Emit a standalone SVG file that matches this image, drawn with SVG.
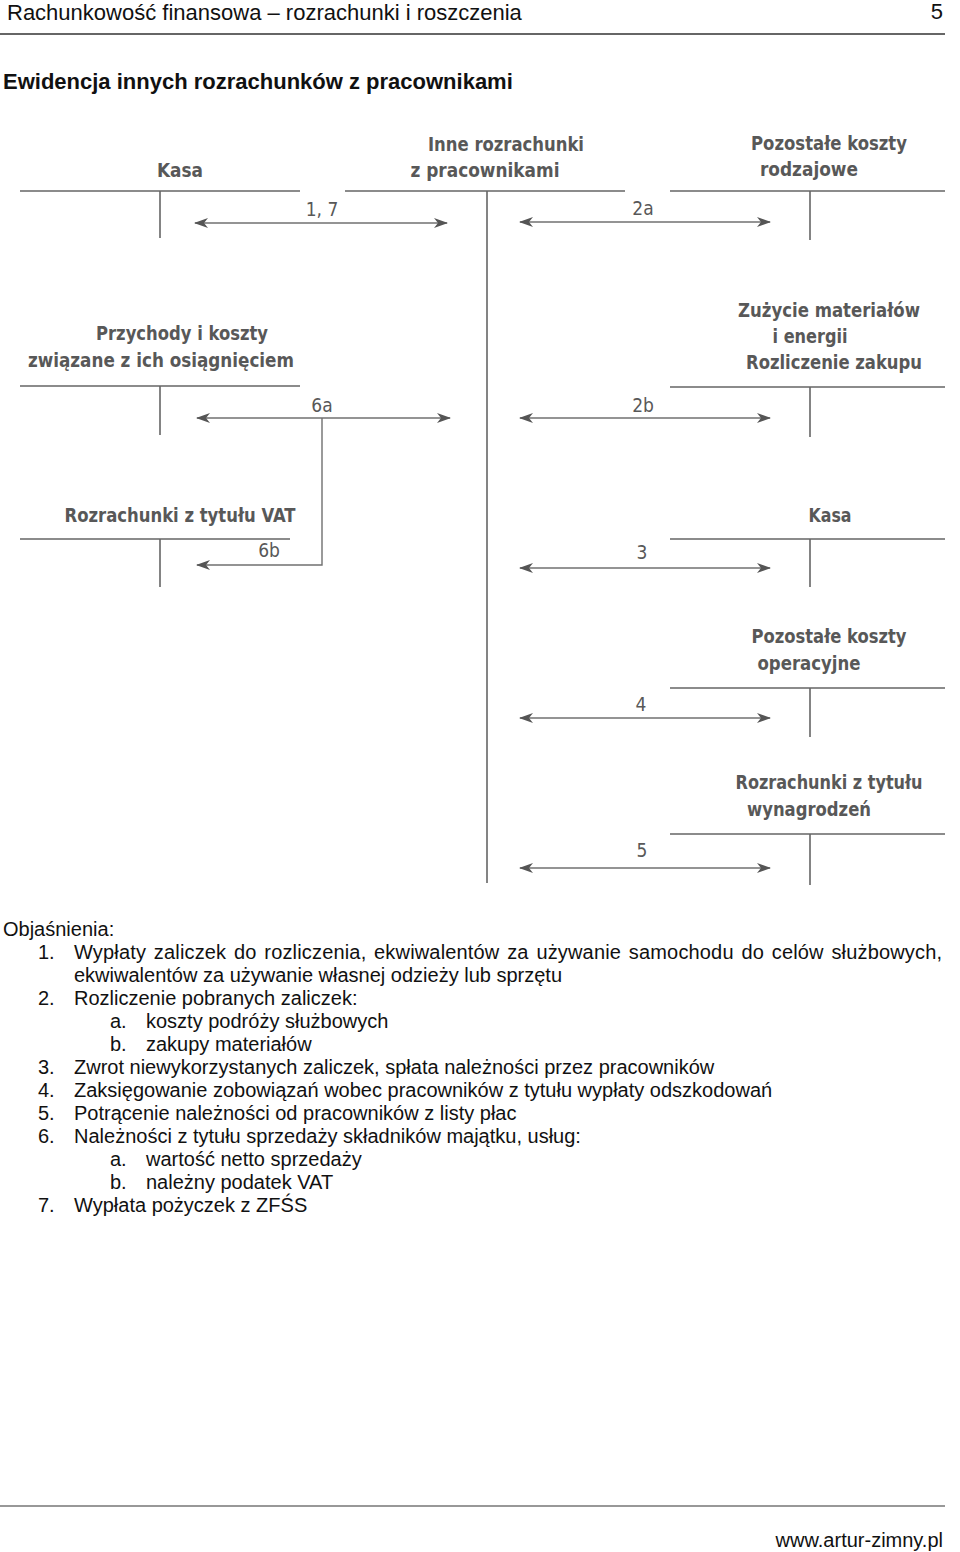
<svg xmlns="http://www.w3.org/2000/svg" width="960" height="1552" viewBox="0 0 960 1552">
<defs>
<marker id="ah" viewBox="0 0 14 10" refX="13" refY="5" markerWidth="14" markerHeight="10" markerUnits="userSpaceOnUse" orient="auto-start-reverse">
<path d="M0,0 L14,5 L0,10 L4,5 z" fill="#555"/>
</marker>
</defs>
<style>
.pg{font-family:"Liberation Sans",Arial,sans-serif;fill:#111}
.hd{font-size:22px}
.tt{font-size:22px;font-weight:bold}
.ex{font-size:20px}
.acc{font-family:"Liberation Sans Narrow","DejaVu Sans Condensed","Liberation Sans",sans-serif;font-size:19px;font-weight:bold;fill:#585858;text-anchor:middle}
.lbl{font-family:"Liberation Sans Narrow","DejaVu Sans Condensed","Liberation Sans",sans-serif;font-size:19px;fill:#585858;text-anchor:middle}
.t{stroke:#666;stroke-width:1.6;fill:none}
.ar{stroke:#707070;stroke-width:1.4;fill:none}
</style>
<rect width="960" height="1552" fill="#fff"/>
<g id="header">
<text class="pg hd" x="7" y="20">Rachunkowość finansowa – rozrachunki i roszczenia</text>
<text class="pg hd" x="943" y="19" text-anchor="end">5</text>
<line x1="0" y1="34" x2="945" y2="34" stroke="#333" stroke-width="1.5"/>
<text class="pg tt" x="3" y="89">Ewidencja innych rozrachunków z pracownikami</text>
</g>
<g id="kasa1">
<text class="acc" x="180" y="177" textLength="46" lengthAdjust="spacingAndGlyphs">Kasa</text>
<path class="t" d="M20,191 H300 M160,191 V238"/>
</g>
<g id="inne">
<text class="acc" x="506" y="151" textLength="156" lengthAdjust="spacingAndGlyphs">Inne rozrachunki</text>
<text class="acc" x="485" y="177" textLength="149" lengthAdjust="spacingAndGlyphs">z pracownikami</text>
<path class="t" d="M345,191 H625 M487,191 V883"/>
</g>
<g id="pkr">
<text class="acc" x="829" y="150" textLength="156" lengthAdjust="spacingAndGlyphs">Pozostałe koszty</text>
<text class="acc" x="809" y="176" textLength="98" lengthAdjust="spacingAndGlyphs">rodzajowe</text>
<path class="t" d="M670,191 H945 M810,191 V240"/>
</g>
<g id="przychody">
<text class="acc" x="182" y="340" textLength="172" lengthAdjust="spacingAndGlyphs">Przychody i koszty</text>
<text class="acc" x="161" y="367" textLength="266" lengthAdjust="spacingAndGlyphs">związane z ich osiągnięciem</text>
<path class="t" d="M20,386 H300 M160,386 V435"/>
</g>
<g id="zuzycie">
<text class="acc" x="829" y="317" textLength="182" lengthAdjust="spacingAndGlyphs">Zużycie materiałów</text>
<text class="acc" x="810" y="343" textLength="75" lengthAdjust="spacingAndGlyphs">i energii</text>
<text class="acc" x="834" y="369" textLength="176" lengthAdjust="spacingAndGlyphs">Rozliczenie zakupu</text>
<path class="t" d="M670,387 H945 M810,387 V437"/>
</g>
<g id="vat">
<text class="acc" x="180" y="522" textLength="231" lengthAdjust="spacingAndGlyphs">Rozrachunki z tytułu VAT</text>
<path class="t" d="M20,539 H290 M160,539 V587"/>
</g>
<g id="kasa2">
<text class="acc" x="830" y="522" textLength="43" lengthAdjust="spacingAndGlyphs">Kasa</text>
<path class="t" d="M670,539 H945 M810,539 V587"/>
</g>
<g id="pko">
<text class="acc" x="829" y="643" textLength="155" lengthAdjust="spacingAndGlyphs">Pozostałe koszty</text>
<text class="acc" x="809" y="670" textLength="103" lengthAdjust="spacingAndGlyphs">operacyjne</text>
<path class="t" d="M670,688 H945 M810,688 V737"/>
</g>
<g id="wynagr">
<text class="acc" x="829" y="789" textLength="187" lengthAdjust="spacingAndGlyphs">Rozrachunki z tytułu</text>
<text class="acc" x="809" y="816" textLength="124" lengthAdjust="spacingAndGlyphs">wynagrodzeń</text>
<path class="t" d="M670,834 H945 M810,834 V885"/>
</g>
<g id="connectors">
<line class="ar" x1="195" y1="223" x2="447" y2="223" marker-start="url(#ah)" marker-end="url(#ah)"/>
<line class="ar" x1="520" y1="222" x2="770" y2="222" marker-start="url(#ah)" marker-end="url(#ah)"/>
<line class="ar" x1="197" y1="418" x2="450" y2="418" marker-start="url(#ah)" marker-end="url(#ah)"/>
<path class="ar" d="M322,418 V565 H197" marker-end="url(#ah)"/>
<line class="ar" x1="520" y1="418" x2="770" y2="418" marker-start="url(#ah)" marker-end="url(#ah)"/>
<line class="ar" x1="520" y1="568" x2="770" y2="568" marker-start="url(#ah)" marker-end="url(#ah)"/>
<line class="ar" x1="520" y1="718" x2="770" y2="718" marker-start="url(#ah)" marker-end="url(#ah)"/>
<line class="ar" x1="520" y1="868" x2="770" y2="868" marker-start="url(#ah)" marker-end="url(#ah)"/>
<text class="lbl" x="322" y="216">1, 7</text>
<text class="lbl" x="643" y="215">2a</text>
<text class="lbl" x="322" y="412">6a</text>
<text class="lbl" x="643" y="412">2b</text>
<text class="lbl" x="269" y="557">6b</text>
<text class="lbl" x="642" y="559">3</text>
<text class="lbl" x="641" y="711">4</text>
<text class="lbl" x="642" y="857">5</text>
</g>
<g id="legend" class="pg ex">
<text x="3" y="936">Objaśnienia:</text>
<text x="38" y="959">1.</text>
<text x="74" y="959" word-spacing="2" textLength="868" lengthAdjust="spacing">Wypłaty zaliczek do rozliczenia, ekwiwalentów za używanie samochodu do celów służbowych,</text>
<text x="74" y="982">ekwiwalentów za używanie własnej odzieży lub sprzętu</text>
<text x="38" y="1005">2.</text>
<text x="74" y="1005">Rozliczenie pobranych zaliczek:</text>
<text x="110" y="1028">a.</text>
<text x="146" y="1028">koszty podróży służbowych</text>
<text x="110" y="1051">b.</text>
<text x="146" y="1051">zakupy materiałów</text>
<text x="38" y="1074">3.</text>
<text x="74" y="1074">Zwrot niewykorzystanych zaliczek, spłata należności przez pracowników</text>
<text x="38" y="1097">4.</text>
<text x="74" y="1097">Zaksięgowanie zobowiązań wobec pracowników z tytułu wypłaty odszkodowań</text>
<text x="38" y="1120">5.</text>
<text x="74" y="1120">Potrącenie należności od pracowników z listy płac</text>
<text x="38" y="1143">6.</text>
<text x="74" y="1143">Należności z tytułu sprzedaży składników majątku, usług:</text>
<text x="110" y="1166">a.</text>
<text x="146" y="1166">wartość netto sprzedaży</text>
<text x="110" y="1189">b.</text>
<text x="146" y="1189">należny podatek VAT</text>
<text x="38" y="1212">7.</text>
<text x="74" y="1212">Wypłata pożyczek z ZFŚS</text>
</g>
<g id="footer">
<line x1="0" y1="1506" x2="945" y2="1506" stroke="#333" stroke-width="1.2"/>
<text class="pg ex" x="943" y="1547" text-anchor="end">www.artur-zimny.pl</text>
</g>
</svg>
